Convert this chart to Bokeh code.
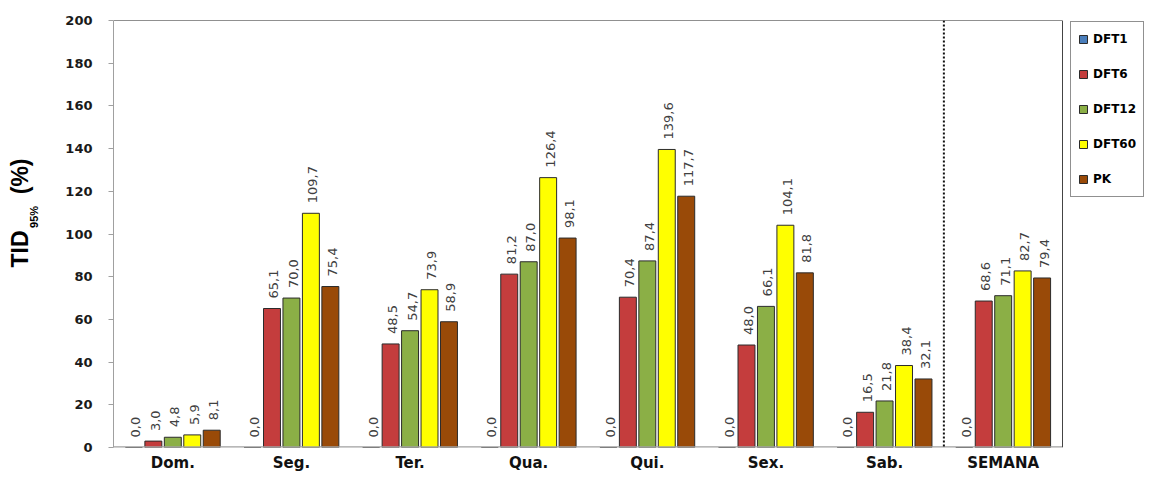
import math
from bokeh.plotting import figure
from bokeh.models import (ColumnDataSource, Range1d, Span, Legend, LegendItem,
                          SingleIntervalTicker, LinearAxis, FixedTicker)
from bokeh.core.properties import value
from bokeh.embed import file_html
from bokeh.resources import INLINE

days = ["Dom.", "Seg.", "Ter.", "Qua.", "Qui.", "Sex.", "Sab.", "SEMANA"]
series_names = ["DFT1", "DFT6", "DFT12", "DFT60", "PK"]
dft1 = [0.0, 0.0, 0.0, 0.0, 0.0, 0.0, 0.0, 0.0]
dft6 = [3.0, 65.1, 48.5, 81.2, 70.4, 48.0, 16.5, 68.6]
dft12 = [4.8, 70.0, 54.7, 87.0, 87.4, 66.1, 21.8, 71.1]
dft60 = [5.9, 109.7, 73.9, 126.4, 139.6, 104.1, 38.4, 82.7]
pk = [8.1, 75.4, 58.9, 98.1, 117.7, 81.8, 32.1, 79.4]
y_title_main = ["TID", "(%)"]
y_title_sub = ["95%"]
yticks_step = 20
y_max = 200

colors = ["#4A7EBB", "#C43D3D", "#8BAF46", "#FFFF00", "#994A08"]
series = [dft1, dft6, dft12, dft60, pk]

# layout (pixels)
W, H = 1144, 474
LEFT, TOP, BOTTOM = 113, 20, 27
PLOT_RIGHT = 1062          # right border of the plotting box
n = len(days)
x_end = n * (W - LEFT) / (PLOT_RIGHT - LEFT)   # frame runs to the canvas edge


def fmt(v):
    return f"{v:.1f}".replace(".", ",")


centers = [i + 0.5 for i in range(n)]
data = {"xc": centers}
for name, vals in zip(series_names, series):
    data[name] = vals
    data[name + "_lbl"] = [fmt(v) for v in vals]
src = ColumnDataSource(data)

p = figure(x_range=Range1d(0, x_end), y_range=Range1d(0, y_max),
           width=W, height=H, output_backend="svg", toolbar_location=None,
           min_border_left=LEFT, min_border_top=TOP, min_border_bottom=BOTTOM,
           min_border_right=0)
p.xgrid.visible = False
p.ygrid.visible = False
p.background_fill_color = "white"
p.border_fill_color = "white"
p.outline_line_color = None

step = 0.164
bw = 0.143
items = []
for i, (name, col) in enumerate(zip(series_names, colors)):
    off = (i - 2) * step
    xs = [c + off for c in centers]
    src.data["x_" + name] = xs
    r = p.vbar(x="x_" + name, top=name, width=bw, source=src,
               fill_color=col, line_color="#2B2B2B", line_width=1)
    items.append(LegendItem(label=name, renderers=[r]))
    p.text(x="x_" + name, y=name, text=name + "_lbl", source=src,
           x_offset=2, angle=math.pi / 2, text_align="left", text_baseline="middle",
           y_offset=-10, text_font=value("DejaVu Sans"), text_font_size="13px",
           text_color="#404040")

# plot box: top border, right border, bottom axis line, dotted separator
p.segment(x0=[0], x1=[n], y0=[y_max], y1=[y_max], line_color="#222222", line_width=1)
p.segment(x0=[0], x1=[n], y0=[0], y1=[0], line_color="#A0A0A0", line_width=2.5)
p.add_layout(Span(location=n, dimension="height", line_color="#444444", line_width=1))
p.add_layout(Span(location=n - 1, dimension="height", line_color="#111111",
                  line_dash="2 2", line_width=2))

# axes
p.yaxis.ticker = SingleIntervalTicker(interval=yticks_step)
p.yaxis.axis_line_color = "#A0A0A0"
p.yaxis.major_tick_line_color = "#A0A0A0"
p.yaxis.major_tick_in = 0
p.yaxis.major_tick_out = 5
p.yaxis.minor_tick_line_color = None
p.yaxis.major_label_standoff = 16
p.yaxis.major_label_text_font = "DejaVu Sans"
p.yaxis.major_label_text_font_style = "bold"
p.yaxis.major_label_text_font_size = "13px"
p.yaxis.major_label_text_color = "#1A1A1A"

p.xaxis.ticker = FixedTicker(ticks=centers)
p.xaxis.major_label_overrides = {c: d for c, d in zip(centers, days)}
p.xaxis.axis_line_color = None
p.xaxis.major_tick_line_color = None
p.xaxis.major_tick_out = 0
p.xaxis.major_tick_in = 0
p.xaxis.minor_tick_line_color = None
p.xaxis.major_label_standoff = 6
p.xaxis.major_label_text_font = "DejaVu Sans"
p.xaxis.major_label_text_font_style = "bold"
p.xaxis.major_label_text_font_size = "15px"
p.xaxis.major_label_text_color = "#111111"

# y title: two bare axes whose tick labels carry the title pieces
main_pos = [93, 127]
sub_pos = [108]


def title_axis(pos, texts, size, standoff):
    return LinearAxis(ticker=FixedTicker(ticks=pos),
                      major_label_overrides={k: t for k, t in zip(pos, texts)},
                      major_label_orientation="vertical",
                      axis_line_color=None, major_tick_line_color=None,
                      minor_tick_line_color=None, major_tick_in=0, major_tick_out=0,
                      major_label_standoff=standoff,
                      major_label_text_font="Liberation Sans",
                      major_label_text_font_style="bold",
                      major_label_text_font_size=size,
                      major_label_text_color="#000000")


p.add_layout(title_axis(sub_pos, y_title_sub, "11px", 22), "left")
p.add_layout(title_axis(main_pos, y_title_main, "23px", -8), "left")

legend_h = 2 * 7 + 5 * 20 + 4 * 15
legend = Legend(items=items, location=(1070 - LEFT, (H - BOTTOM) - 23 - legend_h),
                padding=7, spacing=15,
                label_height=20, glyph_width=10, glyph_height=10,
                label_standoff=5, border_line_color="#222222", border_line_width=1,
                background_fill_color="white", background_fill_alpha=1,
                label_text_font="DejaVu Sans", label_text_font_style="bold",
                label_text_font_size="12px", label_text_color="#000000",
                margin=0)
p.add_layout(legend, "center")

open("out.html", "w").write(file_html(p, INLINE))
